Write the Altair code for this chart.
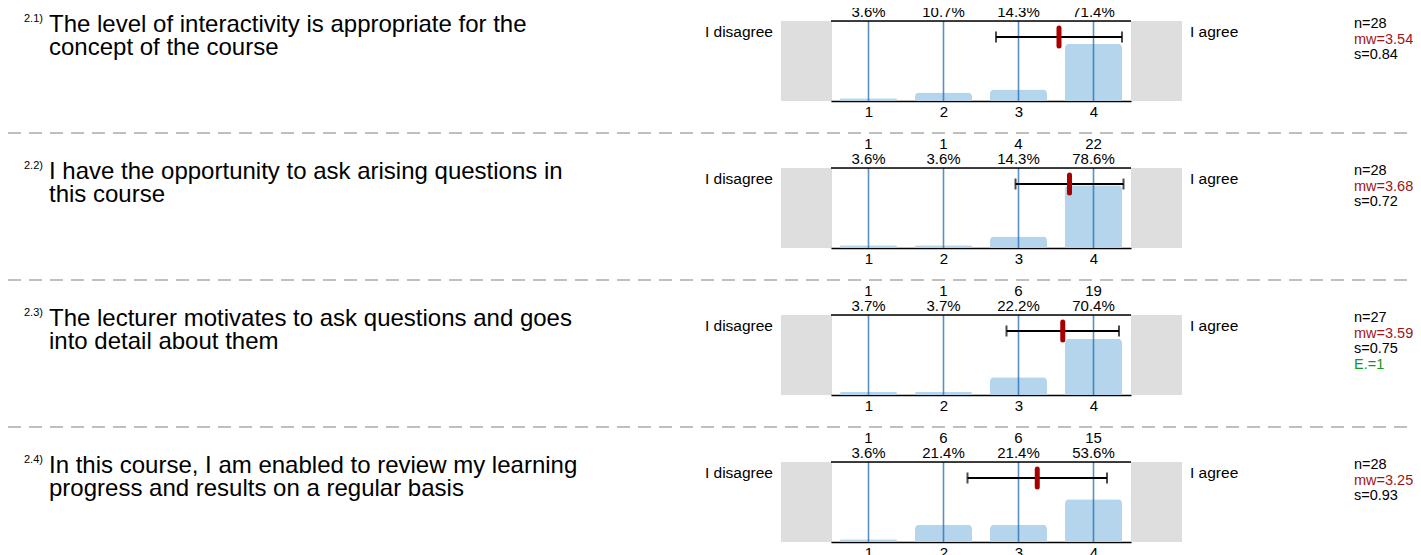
import altair as alt
import pandas as pd

# ---- data ----
qids = ["2.1)", "2.2)", "2.3)", "2.4)"]
qtexts = [
    "The level of interactivity is appropriate for the\nconcept of the course",
    "I have the opportunity to ask arising questions in\nthis course",
    "The lecturer motivates to ask questions and goes\ninto detail about them",
    "In this course, I am enabled to review my learning\nprogress and results on a regular basis",
]
categories = [1, 2, 3, 4]
counts = [
    [1, 3, 4, 20],
    [1, 1, 4, 22],
    [1, 1, 6, 19],
    [1, 6, 6, 15],
]
n_vals = [28, 28, 27, 28]
mw_vals = [3.54, 3.68, 3.59, 3.25]
s_vals = [0.84, 0.72, 0.75, 0.93]
abst_vals = [None, None, 1, None]
left_label = "I disagree"
right_label = "I agree"

rows = []
for i, q in enumerate(qids):
    for j, c in enumerate(categories):
        rows.append(dict(q=q, qtext=qtexts[i], cat=c, count=counts[i][j],
                         n=n_vals[i], mw=mw_vals[i], s=s_vals[i], e=abst_vals[i]))
df = pd.DataFrame(rows)

FONT = "Liberation Sans"
W, H = 300, 80
SIDE_FS = 15.5
STAT_FS = 14.5

xscale = alt.Scale(domain=[0.5, 4.5], nice=False, zero=False, padding=0)
xaxis = alt.Axis(values=categories, format="d", title=None, ticks=False, grid=False,
                 domainColor="black", domainWidth=1.5, labelFontSize=15,
                 labelPadding=3, labelColor="black", labelFont=FONT)


def X(field):
    return alt.X(field, type="quantitative", scale=xscale, axis=xaxis)


base = alt.Chart().transform_calculate(
    pct="100 * datum.count / datum.n",
    pctlabel="format(100 * datum.count / datum.n, '.1f') + '%'",
    lo="datum.mw - datum.s",
    hi="datum.mw + datum.s",
)
one = base.transform_filter("datum.cat == 1")

gray_left = one.mark_rect(color="#dedede").encode(
    x=alt.value(-50), x2=alt.value(0), y=alt.value(0), y2=alt.value(H))
gray_right = one.mark_rect(color="#dedede").encode(
    x=alt.value(W), x2=alt.value(W + 51), y=alt.value(0), y2=alt.value(H))

bars = base.mark_bar(size=57, color="#b4d5ec", cornerRadiusTopLeft=4,
                     cornerRadiusTopRight=4).encode(
    x=X("cat"),
    y=alt.Y("pct:Q", scale=alt.Scale(domain=[0, 100]), axis=None),
)
vlines = base.mark_rule(color="#2a6fb5", opacity=0.78, strokeWidth=1.6).encode(
    x=X("cat"), y=alt.value(0), y2=alt.value(H))
top_rule = one.mark_rule(color="black", strokeWidth=1.5).encode(
    x=alt.value(0), x2=alt.value(W), y=alt.value(0))

err = one.mark_rule(color="black", strokeWidth=2).encode(
    x=X("lo"), x2="hi:Q", y=alt.value(16))
cap_lo = one.mark_tick(color="black", orient="vertical", size=11, thickness=2).encode(
    x=X("lo"), y=alt.value(16))
cap_hi = one.mark_tick(color="black", orient="vertical", size=11, thickness=2).encode(
    x=X("hi"), y=alt.value(16))
mean = one.mark_rule(color="#a80000", strokeWidth=5, strokeCap="round").encode(
    x=X("mw"), y=alt.value(7), y2=alt.value(25))

cnt_txt = base.mark_text(fontSize=15, baseline="middle", font=FONT, color="black").encode(
    x=X("cat"), y=alt.value(-24), text="count:Q")
pct_txt = base.mark_text(fontSize=15, baseline="middle", font=FONT, color="black").encode(
    x=X("cat"), y=alt.value(-9), text="pctlabel:N")

left_txt = one.mark_text(fontSize=SIDE_FS, align="right", baseline="middle", font=FONT,
                         color="black").encode(
    x=alt.value(-58), y=alt.value(11), text=alt.value(left_label))
right_txt = one.mark_text(fontSize=SIDE_FS, align="left", baseline="middle", font=FONT,
                          color="black").encode(
    x=alt.value(W + 59), y=alt.value(11), text=alt.value(right_label))

stat_n = one.transform_calculate(t="'n=' + datum.n").mark_text(
    fontSize=STAT_FS, align="left", baseline="middle", font=FONT, color="black").encode(
    x=alt.value(523), y=alt.value(3), text="t:N")
stat_mw = one.transform_calculate(t="'mw=' + format(datum.mw, '.2f')").mark_text(
    fontSize=STAT_FS, align="left", baseline="middle", font=FONT, color="#a01414").encode(
    x=alt.value(523), y=alt.value(18.5), text="t:N")
stat_s = one.transform_calculate(t="'s=' + format(datum.s, '.2f')").mark_text(
    fontSize=STAT_FS, align="left", baseline="middle", font=FONT, color="black").encode(
    x=alt.value(523), y=alt.value(34), text="t:N")
stat_e = one.transform_filter("datum.e != null").transform_calculate(
    t="'E.=' + datum.e").mark_text(
    fontSize=STAT_FS, align="left", baseline="middle", font=FONT, color="#1a961a").encode(
    x=alt.value(523), y=alt.value(49.5), text="t:N")

qnum = one.mark_text(fontSize=11, align="left", baseline="alphabetic", font=FONT,
                     color="black").encode(
    x=alt.value(-807), y=alt.value(1), text="q:N")
qtxt = one.mark_text(fontSize=24, align="left", baseline="alphabetic", font=FONT,
                     color="black", lineBreak="\n", lineHeight=23).encode(
    x=alt.value(-782), y=alt.value(11), text="qtext:N")

sep = one.mark_rule(color="#ababab", strokeWidth=1.5, strokeDash=[13, 8]).encode(
    x=alt.value(-823), x2=alt.value(590), y=alt.value(112))

layer = alt.layer(
    sep, gray_left, gray_right, bars, vlines, top_rule, err, cap_lo, cap_hi, mean,
    cnt_txt, pct_txt, left_txt, right_txt, stat_n, stat_mw, stat_s, stat_e, qnum, qtxt,
).properties(width=W, height=H)

chart = layer.facet(
    row=alt.Row("q:N", header=None, sort=qids),
    data=df,
    spacing=67,
    bounds="flush",
).resolve_axis(x="independent").properties(
    autosize=alt.AutoSizeParams(type="none"),
    padding={"left": 823, "top": 13, "right": 582, "bottom": 534},
).configure_view(stroke=None).configure(font=FONT).configure_axis(
    labelFontSize=15, labelColor="black", labelFont=FONT
)

chart.save("out.html", embed_options={"renderer": "svg", "actions": False})
